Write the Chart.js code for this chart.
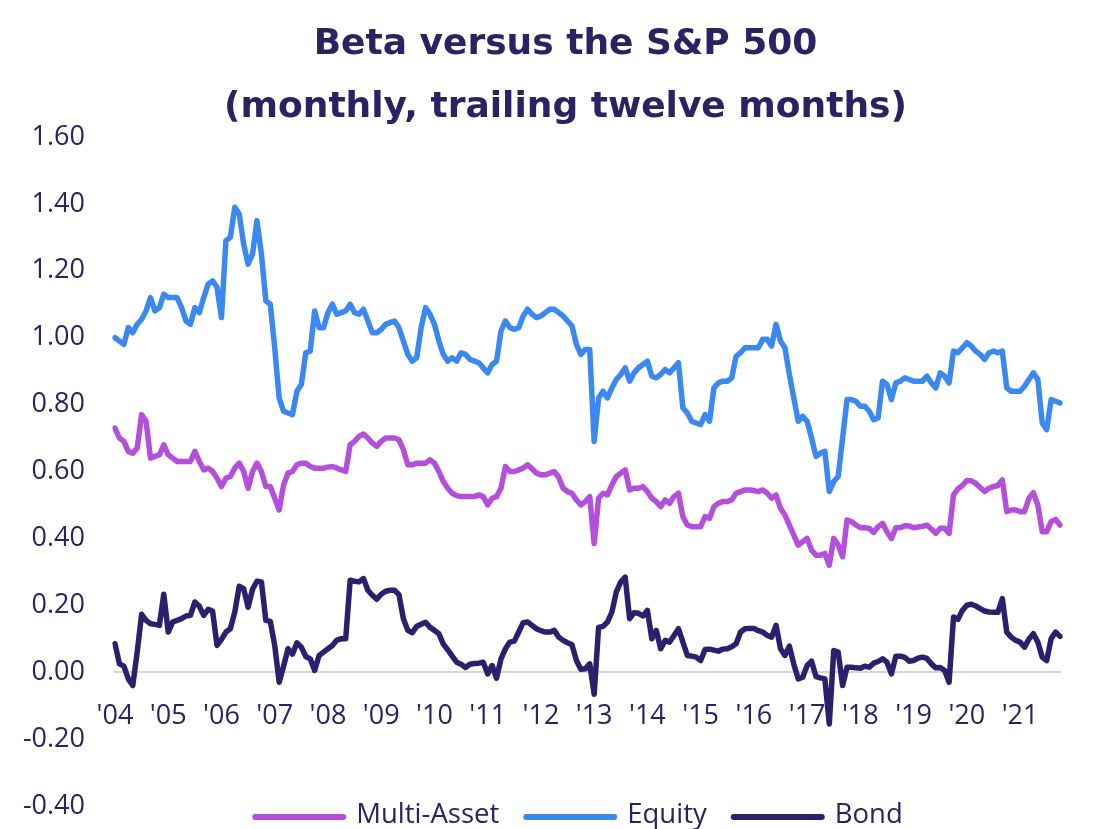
<!DOCTYPE html>
<html>
<head>
<meta charset="utf-8">
<script src="https://cdn.jsdelivr.net/npm/chart.js@4.4.0/dist/chart.umd.min.js"></script>
<style>
  html, body { margin: 0; padding: 0; background: #fff; }
  #wrap { width: 1101px; height: 829px; }
</style>
</head>
<body>
<div id="wrap"><canvas id="betaChart"></canvas></div>
<script>
// x axis: one label per January
const yearTicks = ["'04", "'05", "'06", "'07", "'08", "'09", "'10", "'11", "'12",
                   "'13", "'14", "'15", "'16", "'17", "'18", "'19", "'20", "'21"];

const titleLines = ['Beta versus the S&P 500', '(monthly, trailing twelve months)'];

// monthly betas, Jan 2004 - Oct 2021 (one row per year)
const multiAsset = [
  0.73, 0.70, 0.69, 0.66, 0.655, 0.67, 0.77, 0.75, 0.64, 0.645, 0.65, 0.68,
  0.65, 0.64, 0.63, 0.63, 0.63, 0.63, 0.66, 0.63, 0.605, 0.61, 0.60, 0.58,
  0.555, 0.58, 0.585, 0.61, 0.625, 0.60, 0.55, 0.60, 0.625, 0.60, 0.555, 0.555,
  0.52, 0.485, 0.56, 0.595, 0.60, 0.62, 0.625, 0.625, 0.615, 0.61, 0.61, 0.61,
  0.613, 0.615, 0.61, 0.605, 0.60, 0.68, 0.69, 0.705, 0.712, 0.70, 0.685, 0.675,
  0.69, 0.70, 0.70, 0.70, 0.695, 0.665, 0.62, 0.62, 0.625, 0.625, 0.625, 0.635,
  0.625, 0.60, 0.57, 0.55, 0.535, 0.528, 0.525, 0.525, 0.525, 0.525, 0.53, 0.525,
  0.50, 0.52, 0.525, 0.55, 0.615, 0.60, 0.60, 0.605, 0.61, 0.62, 0.608, 0.595,
  0.59, 0.59, 0.595, 0.60, 0.583, 0.55, 0.54, 0.535, 0.515, 0.50, 0.51, 0.525,
  0.385, 0.52, 0.535, 0.53, 0.56, 0.585, 0.595, 0.605, 0.545, 0.55, 0.55, 0.555,
  0.54, 0.52, 0.51, 0.495, 0.515, 0.505, 0.525, 0.535, 0.465, 0.44, 0.435, 0.435,
  0.435, 0.465, 0.46, 0.495, 0.505, 0.51, 0.51, 0.515, 0.535, 0.54, 0.545, 0.545,
  0.543, 0.54, 0.545, 0.535, 0.52, 0.53, 0.49, 0.47, 0.44, 0.41, 0.38, 0.39,
  0.40, 0.365, 0.35, 0.35, 0.355, 0.32, 0.40, 0.38, 0.345, 0.455, 0.45, 0.44,
  0.432, 0.432, 0.43, 0.418, 0.435, 0.445, 0.42, 0.40, 0.432, 0.432, 0.438, 0.437,
  0.432, 0.434, 0.436, 0.44, 0.428, 0.415, 0.43, 0.43, 0.415, 0.53, 0.548, 0.558,
  0.573, 0.572, 0.565, 0.552, 0.54, 0.55, 0.555, 0.558, 0.575, 0.48, 0.485, 0.485,
  0.48, 0.48, 0.52, 0.537, 0.50, 0.42, 0.42, 0.45, 0.457, 0.44
];

const equity = [
  1.00, 0.99, 0.98, 1.03, 1.015, 1.04, 1.055, 1.08, 1.12, 1.08, 1.09, 1.13,
  1.12, 1.12, 1.12, 1.09, 1.05, 1.04, 1.09, 1.075, 1.12, 1.16, 1.17, 1.15,
  1.06, 1.29, 1.30, 1.39, 1.37, 1.28, 1.22, 1.25, 1.35, 1.25, 1.11, 1.10,
  0.97, 0.82, 0.78, 0.775, 0.77, 0.84, 0.86, 0.955, 0.96, 1.08, 1.03, 1.03,
  1.075, 1.10, 1.07, 1.075, 1.08, 1.10, 1.075, 1.07, 1.085, 1.05, 1.015, 1.015,
  1.025, 1.04, 1.045, 1.05, 1.03, 0.99, 0.95, 0.93, 0.94, 1.03, 1.09, 1.07,
  1.04, 0.99, 0.95, 0.93, 0.94, 0.93, 0.955, 0.95, 0.935, 0.93, 0.925, 0.91,
  0.895, 0.92, 0.93, 1.02, 1.05, 1.03, 1.025, 1.03, 1.065, 1.085, 1.07, 1.06,
  1.065, 1.075, 1.085, 1.085, 1.075, 1.065, 1.05, 1.035, 0.98, 0.95, 0.965, 0.965,
  0.69, 0.82, 0.84, 0.82, 0.85, 0.875, 0.89, 0.91, 0.87, 0.895, 0.91, 0.92,
  0.93, 0.885, 0.88, 0.89, 0.905, 0.895, 0.91, 0.925, 0.79, 0.775, 0.75, 0.745,
  0.74, 0.77, 0.75, 0.85, 0.865, 0.87, 0.87, 0.88, 0.945, 0.955, 0.97, 0.97,
  0.97, 0.97, 0.995, 0.995, 0.975, 1.04, 0.99, 0.97, 0.89, 0.82, 0.75, 0.765,
  0.75, 0.70, 0.645, 0.655, 0.66, 0.54, 0.57, 0.585, 0.70, 0.815, 0.815, 0.81,
  0.795, 0.795, 0.78, 0.755, 0.76, 0.87, 0.86, 0.815, 0.865, 0.87, 0.88, 0.875,
  0.87, 0.87, 0.87, 0.885, 0.865, 0.85, 0.895, 0.885, 0.865, 0.96, 0.955, 0.97,
  0.985, 0.975, 0.96, 0.95, 0.935, 0.955, 0.96, 0.955, 0.96, 0.85, 0.84, 0.84,
  0.84, 0.855, 0.875, 0.895, 0.875, 0.745, 0.725, 0.815, 0.81, 0.805
];

const bond = [
  0.085, 0.025, 0.018, -0.02, -0.04, 0.06, 0.173, 0.155, 0.145, 0.143, 0.14, 0.233,
  0.12, 0.15, 0.155, 0.16, 0.168, 0.17, 0.21, 0.197, 0.17, 0.188, 0.182, 0.08,
  0.098, 0.12, 0.13, 0.18, 0.257, 0.25, 0.194, 0.248, 0.272, 0.27, 0.155, 0.152,
  0.08, -0.03, 0.018, 0.07, 0.054, 0.088, 0.075, 0.047, 0.04, 0.005, 0.05, 0.06,
  0.07, 0.08, 0.096, 0.10, 0.10, 0.275, 0.272, 0.27, 0.28, 0.245, 0.23, 0.218,
  0.233, 0.242, 0.245, 0.245, 0.232, 0.16, 0.125, 0.118, 0.137, 0.143, 0.149, 0.134,
  0.125, 0.115, 0.084, 0.067, 0.048, 0.03, 0.024, 0.014, 0.024, 0.026, 0.027, 0.03,
  -0.005, 0.02, -0.018, 0.04, 0.07, 0.09, 0.093, 0.12, 0.148, 0.15, 0.14, 0.13,
  0.124, 0.12, 0.12, 0.125, 0.105, 0.095, 0.088, 0.082, 0.035, 0.009, 0.01, 0.025,
  -0.066, 0.134, 0.137, 0.15, 0.18, 0.24, 0.27, 0.284, 0.16, 0.178, 0.176, 0.168,
  0.185, 0.10, 0.125, 0.07, 0.095, 0.09, 0.11, 0.13, 0.09, 0.05, 0.048, 0.045,
  0.035, 0.068, 0.069, 0.066, 0.063, 0.069, 0.07, 0.076, 0.085, 0.12, 0.13, 0.131,
  0.131, 0.124, 0.12, 0.11, 0.105, 0.14, 0.07, 0.05, 0.078, 0.024, -0.02, -0.015,
  0.02, 0.033, -0.013, -0.017, -0.02, -0.155, 0.065, 0.06, -0.04, 0.015, 0.015, 0.013,
  0.012, 0.018, 0.015, 0.027, 0.032, 0.04, 0.03, -0.005, 0.048, 0.048, 0.044, 0.033,
  0.035, 0.042, 0.045, 0.041, 0.025, 0.013, 0.014, 0.005, -0.03, 0.165, 0.158, 0.185,
  0.2, 0.203, 0.198, 0.19, 0.183, 0.18, 0.179, 0.179, 0.22, 0.12, 0.105, 0.095,
  0.09, 0.075, 0.099, 0.115, 0.09, 0.045, 0.035, 0.10, 0.12, 0.107
];

// one category per month, labelled by year
const months = [];
yearTicks.forEach(y => {
  for (let m = 1; m <= 12; m++) months.push(y + '-' + m);
});
months.length = equity.length;

const navy = '#2b2163';
const fontFamily = "'Open Sans', sans-serif";

// two-line bold title above the plot
const titlePlugin = {
  id: 'titleText',
  afterDraw(chart) {
    const {ctx} = chart;
    ctx.save();
    ctx.font = "bold 36px 'DejaVu Sans', sans-serif";
    ctx.fillStyle = navy;
    ctx.textAlign = 'center';
    ctx.textBaseline = 'alphabetic';
    const cx = chart.width / 2 + 15;
    ctx.fillText(titleLines[0], cx, 54);
    ctx.fillText(titleLines[1], cx, 117);
    ctx.restore();
  }
};

// legend drawn as long line samples under the plot
const lineLegend = {
  id: 'lineLegend',
  afterDraw(chart) {
    const {ctx, chartArea} = chart;
    const sampleLen = 94, gap = 10, spacing = 24;
    ctx.save();
    ctx.font = '27.5px ' + fontFamily;
    const widths = chart.data.datasets.map(ds => ctx.measureText(ds.label).width);
    const total = widths.reduce((s, w) => s + sampleLen + gap + w, 0) + spacing * (widths.length - 1);
    let x = (chartArea.left + chartArea.right) / 2 - 10 - total / 2;
    const y = chart.height - 14;
    ctx.textBaseline = 'middle';
    ctx.textAlign = 'left';
    chart.data.datasets.forEach((ds, i) => {
      ctx.strokeStyle = ds.borderColor;
      ctx.lineWidth = 6;
      ctx.lineCap = 'round';
      ctx.beginPath();
      ctx.moveTo(x + 3, y + 2);
      ctx.lineTo(x + sampleLen - 3, y + 2);
      ctx.stroke();
      x += sampleLen + gap;
      ctx.fillStyle = navy;
      ctx.fillText(ds.label, x, y);
      x += widths[i] + spacing;
    });
    ctx.restore();
  }
};

const ctx = document.getElementById('betaChart').getContext('2d');
new Chart(ctx, {
  type: 'line',
  data: {
    labels: months,
    datasets: [
      { label: 'Multi-Asset', data: multiAsset, borderColor: '#b44fdc', backgroundColor: '#b44fdc' },
      { label: 'Equity', data: equity, borderColor: '#3a88f0', backgroundColor: '#3a88f0' },
      { label: 'Bond', data: bond, borderColor: '#2b1f6e', backgroundColor: '#2b1f6e' }
    ]
  },
  options: {
    responsive: true,
    maintainAspectRatio: false,
    animation: false,
    elements: {
      line: { borderWidth: 5.5, tension: 0, borderJoinStyle: 'round', borderCapStyle: 'round', fill: false },
      point: { radius: 0 }
    },
    layout: { padding: { left: 15, right: 41, top: 137, bottom: 23 } },
    plugins: {
      legend: { display: false },
      tooltip: { enabled: false },
      title: { display: false }
    },
    scales: {
      x: {
        type: 'category',
        position: { y: 0 },
        grid: { display: false, drawTicks: false },
        border: { display: true, color: '#d6d6d6', width: 2 },
        ticks: {
          autoSkip: false,
          maxRotation: 0,
          padding: 28,
          color: navy,
          font: { family: fontFamily, size: 27 },
          callback: (v, i) => (i % 12 === 0 ? yearTicks[i / 12] : '')
        }
      },
      y: {
        min: -0.4,
        max: 1.6,
        grid: { display: false, drawTicks: true, tickLength: 30 },
        border: { display: false },
        afterFit(scale) { scale.width = 100; },
        ticks: {
          stepSize: 0.2,
          padding: 0,
          color: navy,
          font: { family: fontFamily, size: 27 },
          callback: v => (Math.abs(v) < 1e-9 ? '0.00' : v.toFixed(2))
        }
      }
    }
  },
  plugins: [titlePlugin, lineLegend]
});
</script>
</body>
</html>
